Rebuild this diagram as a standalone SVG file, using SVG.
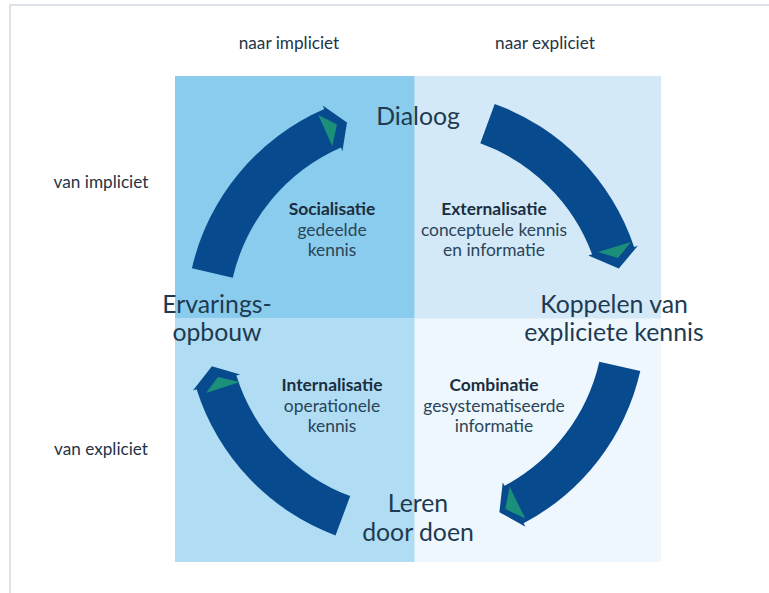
<svg xmlns="http://www.w3.org/2000/svg" width="769" height="593" viewBox="0 0 769 593">
<style>
text{font-family:Lato,"Open Sans","Liberation Sans",sans-serif;fill:#1f3447;text-anchor:middle}
.ax{font-size:17.2px}
.big{font-size:24.8px;fill:#1e3a50}
.q{font-size:17.4px;fill:#2a4458}
.b{font-weight:bold;fill:#1a2e40}
.arc{fill:#074b8e}
.tri{fill:#1b8f79}
</style>
<rect x="0" y="0" width="769" height="593" fill="#ffffff"/>
<path d="M10,593 V5 H769" fill="none" stroke="#dce3ea" stroke-width="2"/>
<g id="quadrants">
<rect x="175" y="76" width="240" height="243" fill="#8acced"/>
<rect x="415" y="76" width="246" height="243" fill="#d3e9f8"/>
<rect x="175" y="319" width="240" height="243" fill="#b0ddf3"/>
<rect x="415" y="319" width="246" height="243" fill="#eef7fe"/>
<path d="M414.5,76 V562 M175,318.5 H661" stroke="#ffffff" stroke-opacity="0.35" stroke-width="1"/>
</g>
<g id="axis-labels">
<text class="ax" x="289" y="49">naar impliciet</text>
<text class="ax" x="545" y="49">naar expliciet</text>
<text class="ax" x="101" y="188">van impliciet</text>
<text class="ax" x="101" y="455">van expliciet</text>
</g>
<g id="connectors">
<g id="arc-socialisatie">
<path class="arc" d="M191.9,268.3 A230,230 0 0,1 324.3,109.1 L322.7,105.4 L347.0,122.6 L342.4,151.2 L341.0,147.6 A188,188 0 0,0 232.8,277.7 Z"/>
<polygon class="tri" points="318.3,115.1 337.0,124.4 332.3,146.1"/>
</g>
<g id="arc-externalisatie">
<path class="arc" d="M494.7,103.9 A230,230 0 0,1 634.1,247.0 L637.8,245.8 L618.8,268.6 L588.3,255.6 L592.1,254.2 A188,188 0 0,0 480.3,143.3 Z"/>
<polygon class="tri" points="631,242 618,258 598,252"/>
</g>
<g id="arc-combinatie">
<path class="arc" d="M640.3,371.0 A230,230 0 0,1 523.6,523.3 L525.5,526.7 L499.4,512.2 L502.7,482.4 L504.6,485.8 A188,188 0 0,0 599.3,361.7 Z"/>
<polygon class="tri" points="509.6,486.8 525.3,518.5 505.4,509.0"/>
</g>
<g id="arc-internalisatie">
<path class="arc" d="M335.5,535.4 A230,230 0 0,1 196.6,389.2 L192.9,390.4 L211.9,366.2 L240.2,374.4 L236.4,375.6 A188,188 0 0,0 350.2,496.1 Z"/>
<polygon class="tri" points="206,393 218,377 240,382"/>
</g>
</g>
<g id="node-dialoog"><text class="big" x="418" y="125">Dialoog</text></g>
<g id="node-ervaringsopbouw"><text class="big" x="217" y="313">Ervarings-</text><text class="big" x="217" y="341">opbouw</text></g>
<g id="node-koppelen"><text class="big" x="614" y="313">Koppelen van</text><text class="big" x="614" y="341">expliciete kennis</text></g>
<g id="node-leren"><text class="big" x="418" y="512">Leren</text><text class="big" x="418" y="541">door doen</text></g>
<g id="node-socialisatie"><text class="q b" x="332" y="215">Socialisatie</text><text class="q" x="332" y="236">gedeelde</text><text class="q" x="332" y="256">kennis</text></g>
<g id="node-externalisatie"><text class="q b" x="494" y="215">Externalisatie</text><text class="q" x="494" y="236">conceptuele kennis</text><text class="q" x="494" y="256">en informatie</text></g>
<g id="node-internalisatie"><text class="q b" x="332" y="391">Internalisatie</text><text class="q" x="332" y="412">operationele</text><text class="q" x="332" y="432">kennis</text></g>
<g id="node-combinatie"><text class="q b" x="494" y="391">Combinatie</text><text class="q" x="494" y="412">gesystematiseerde</text><text class="q" x="494" y="432">informatie</text></g>
</svg>
